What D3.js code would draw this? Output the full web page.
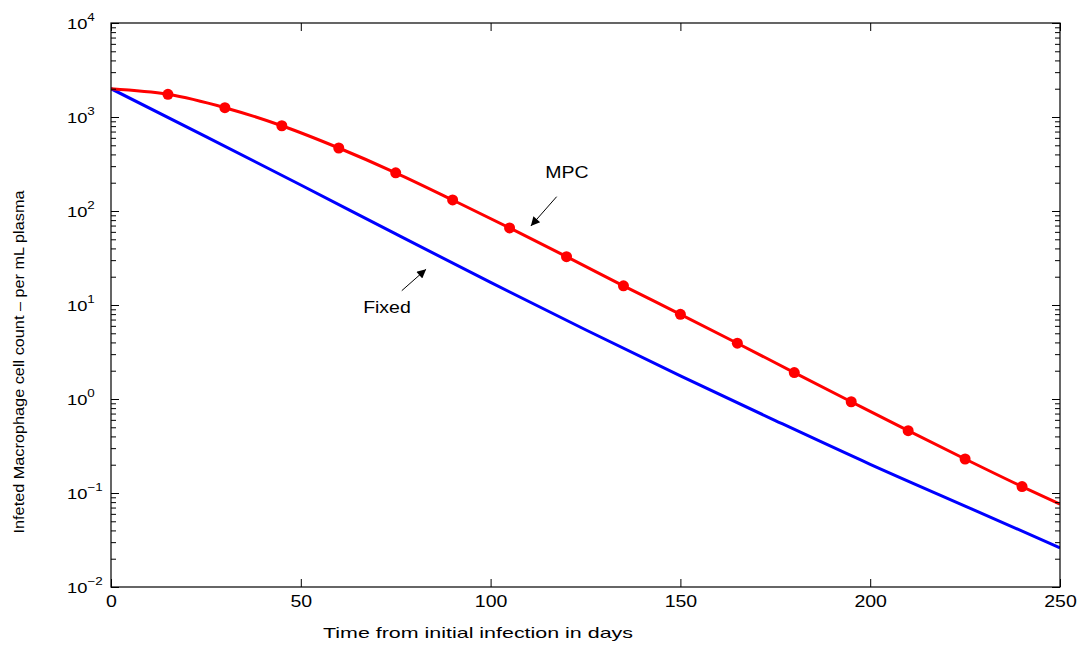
<!DOCTYPE html>
<html><head><meta charset="utf-8">
<script src="https://cdn.jsdelivr.net/npm/d3@7"></script>
<style>
body{margin:0;background:#fff}
svg{display:block;font-family:"Liberation Sans",Arial,Helvetica,sans-serif}
</style>
</head><body>
<svg id="c" width="1088" height="646"></svg>
<script>
// ---- data ----
const mpcDays   = [0,15,30,45,60,75,90,105,120,135,150,165,180,195,210,225,240,250];
const mpcValues = [2000,1742,1256,807,468,255,131,66,32.7,16.0,7.96,3.92,1.91,0.935,0.46,0.23,0.117,0.076];
const markerDays = [15,30,45,60,75,90,105,120,135,150,165,180,195,210,225,240];
const fixedDays   = [0,25,50,75,100,125,150,175,200,225,250];
const fixedValues = [2000,618,189,57,17.4,5.45,1.76,0.590,0.202,0.0726,0.0261];
const xTicks = [0,50,100,150,200,250];
const yExponents = [-2,-1,0,1,2,3,4];
const annoLabels = ["MPC","Fixed"];
const annoText  = [[120.1,260],[72.7,9.5]];
const annoFrom  = [[117.4,142],[76.6,14.2]];
const annoTo    = [[110.6,69.2],[83.0,24.0]];
const xLabel = "Time from initial infection in days";
const yLabel = "Infeted Macrophage cell count \u2013 per mL plasma";

// ---- layout ----
const W=1088,H=646, L=111, R=1060, T=23, B=587;
const SX=1.22; // horizontal text stretch of the original
const svg=d3.select("#c");
const x=d3.scaleLinear().domain([0,250]).range([L,R]);
const y=d3.scaleLog().domain([0.01,10000]).range([B,T]);

function stretchedText(g,px,py,str,size,anchor){
  return g.append("text").attr("transform",`translate(${px},${py}) scale(${SX},1)`)
    .attr("text-anchor",anchor||"middle").attr("font-size",size).attr("fill","#000").text(str);
}

// lines
svg.append("defs").append("clipPath").attr("id","clip").append("rect")
  .attr("x",L).attr("y",T).attr("width",R-L).attr("height",B-T);
const line=d3.line().x(d=>x(d[0])).y(d=>y(d[1])).curve(d3.curveMonotoneX);
const plot=svg.append("g").attr("clip-path","url(#clip)");
plot.append("path").datum(fixedDays.map((d,i)=>[d,fixedValues[i]]))
  .attr("d",line).attr("fill","none").attr("stroke","#0000ff").attr("stroke-width",3);
plot.append("path").datum(mpcDays.map((d,i)=>[d,mpcValues[i]]))
  .attr("d",line).attr("fill","none").attr("stroke","#ff0000").attr("stroke-width",3);
plot.selectAll("circle.m").data(markerDays).enter().append("circle").attr("class","m")
  .attr("cx",d=>x(d)).attr("cy",d=>y(mpcValues[mpcDays.indexOf(d)])).attr("r",5.5).attr("fill","#ff0000");

// axes
const yt=y.ticks();
const isMajor=v=>Math.abs(Math.log10(v)-Math.round(Math.log10(v)))<1e-9;
function styleAxis(g){
  g.select(".domain").remove();
  g.selectAll("line").attr("stroke","#000").attr("stroke-width",1);
}
const gb=svg.append("g").attr("transform",`translate(0,${B})`)
  .call(d3.axisBottom(x).tickValues(xTicks).tickSizeInner(-8).tickSizeOuter(0).tickPadding(9).tickFormat(d3.format("d")));
styleAxis(gb);
gb.selectAll("text").attr("font-size",16).attr("fill","#000").attr("font-family","Liberation Sans, Arial, sans-serif")
  .attr("transform",`scale(${SX},1)`);
const gt=svg.append("g").attr("transform",`translate(0,${T})`)
  .call(d3.axisTop(x).tickValues(xTicks).tickSizeInner(-8).tickSizeOuter(0).tickFormat(""));
styleAxis(gt);
const gl=svg.append("g").attr("transform",`translate(${L},0)`)
  .call(d3.axisLeft(y).tickValues(yt).tickSizeInner(-8).tickSizeOuter(0).tickFormat(""));
styleAxis(gl);
gl.selectAll(".tick line").attr("x2",d=>isMajor(d)?8:5);
const gr=svg.append("g").attr("transform",`translate(${R},0)`)
  .call(d3.axisRight(y).tickValues(yt).tickSizeInner(-8).tickSizeOuter(0).tickFormat(""));
styleAxis(gr);
gr.selectAll(".tick line").attr("x2",d=>isMajor(d)?-8:-5);

// y tick labels 10^k
yExponents.forEach(k=>{
  const py=y(Math.pow(10,k));
  const t=svg.append("text").attr("transform",`translate(67,${py+6}) scale(${SX},1)`)
    .attr("font-size",15).attr("fill","#000");
  t.append("tspan").text("10");
  t.append("tspan").attr("font-size",11).attr("dy",-8).text(k<0?"\u2212"+(-k):String(k));
});

// box
svg.append("rect").attr("x",L).attr("y",T).attr("width",R-L).attr("height",B-T)
  .attr("fill","none").attr("stroke","#000").attr("stroke-width",1.2);

// annotations
svg.append("defs").append("marker").attr("id","ah").attr("viewBox","0 0 10 10")
  .attr("refX",10).attr("refY",5).attr("markerWidth",11).attr("markerHeight",9)
  .attr("markerUnits","userSpaceOnUse").attr("orient","auto")
  .append("path").attr("d","M0,0 L10,5 L0,10 Z").attr("fill","#000");
annoLabels.forEach((lab,i)=>{
  svg.append("line").attr("x1",x(annoFrom[i][0])).attr("y1",y(annoFrom[i][1]))
    .attr("x2",x(annoTo[i][0])).attr("y2",y(annoTo[i][1]))
    .attr("stroke","#000").attr("stroke-width",1).attr("marker-end","url(#ah)");
  stretchedText(svg,x(annoText[i][0]),y(annoText[i][1])+6,lab,16,"middle");
});

// axis titles
svg.append("text").attr("x",478).attr("y",638).attr("text-anchor","middle")
  .attr("font-size",15).attr("textLength",310).attr("lengthAdjust","spacingAndGlyphs").text(xLabel);
svg.append("text").attr("transform","translate(24,362) rotate(-90)").attr("text-anchor","middle")
  .attr("font-size",15).attr("textLength",343).attr("lengthAdjust","spacingAndGlyphs").text(yLabel);
</script>
</body></html>
